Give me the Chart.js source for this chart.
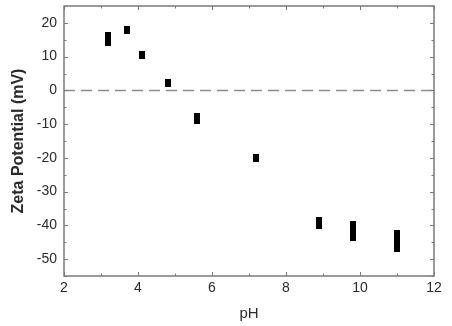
<!DOCTYPE html>
<html>
<head>
<meta charset="utf-8">
<script src="https://cdn.jsdelivr.net/npm/chart.js@4.4.1/dist/chart.umd.min.js"></script>
<style>
  html, body { margin: 0; padding: 0; background: #fff; }
  #wrap { width: 452px; height: 326px; }
</style>
</head>
<body>
<div id="wrap"><canvas id="zetaChart"></canvas></div>
<script>
// measured zeta potential vs pH
var phValues   = [3.2, 3.2, 3.7, 4.1, 4.8, 5.6, 5.6, 7.2, 8.9, 8.9, 9.8, 9.8, 9.8, 11, 11, 11];
var zetaValues = [16.2, 14.2, 17.9, 10.4, 2.1, -7.9, -8.9, -19.9, -38.8, -39.8, -40.0, -41.7, -43.4, -42.7, -44.7, -46.8];
var xRange = [2, 12];
var yRange = [-55, 25];

var points = phValues.map(function (x, i) { return { x: x, y: zetaValues[i] }; });

// small black rectangle marker, a bit taller than wide
var marker = document.createElement('canvas');
marker.width = 6;
marker.height = 8;
var mctx = marker.getContext('2d');
mctx.fillStyle = '#000';
mctx.fillRect(0, 0, 6, 8);

var axisColor = '#7a7a7a';
var fontFamily = 'Liberation Sans, Arial, sans-serif';

// frame plus inward ticks on all four sides
var framePlugin = {
    id: 'frame',
    afterDatasetsDraw: function (chart) {
        var ctx = chart.ctx;
        var a = chart.chartArea;
        var xs = chart.scales.x, ys = chart.scales.y;
        ctx.save();
        ctx.strokeStyle = axisColor;
        ctx.lineWidth = 1.5;
        ctx.strokeRect(a.left, a.top, a.right - a.left, a.bottom - a.top);
        ctx.lineWidth = 1;
        ctx.beginPath();
        xs.ticks.forEach(function (t) {
            var px = Math.round(xs.getPixelForValue(t.value)) + 0.5;
            var len = (t.value % 2 === 0) ? 4 : 2.5;
            ctx.moveTo(px, a.bottom); ctx.lineTo(px, a.bottom - len);
            ctx.moveTo(px, a.top); ctx.lineTo(px, a.top + len);
        });
        ys.ticks.forEach(function (t) {
            var py = Math.round(ys.getPixelForValue(t.value)) + 0.5;
            var len = (t.value % 10 === 0) ? 4 : 2.5;
            ctx.moveTo(a.left, py); ctx.lineTo(a.left + len, py);
            ctx.moveTo(a.right, py); ctx.lineTo(a.right - len, py);
        });
        ctx.stroke();
        ctx.restore();
    }
};

new Chart(document.getElementById('zetaChart').getContext('2d'), {
    type: 'scatter',
    data: {
        datasets: [
            {
                label: 'Zeta potential',
                data: points,
                pointStyle: marker,
                backgroundColor: '#000',
                borderColor: '#000'
            },
            {
                label: 'zero',
                type: 'line',
                data: [{ x: xRange[0], y: 0 }, { x: xRange[1], y: 0 }],
                borderColor: '#8c8c8c',
                borderWidth: 1.5,
                borderDash: [11, 6],
                pointRadius: 0,
                fill: false
            }
        ]
    },
    options: {
        responsive: true,
        maintainAspectRatio: false,
        animation: false,
        layout: { padding: { left: 0, right: 18, top: 6, bottom: 0 } },
        plugins: {
            legend: { display: false },
            tooltip: { enabled: false }
        },
        scales: {
            x: {
                type: 'linear',
                min: xRange[0],
                max: xRange[1],
                grid: { display: false, drawTicks: false },
                border: { display: false },
                ticks: {
                    stepSize: 1,
                    autoSkip: false,
                    maxRotation: 0,
                    padding: 4,
                    color: '#2a2a2a',
                    font: { family: fontFamily, size: 14 },
                    callback: function (v) { return v % 2 === 0 ? v : ''; }
                },
                title: {
                    display: true,
                    text: 'pH',
                    color: '#2a2a2a',
                    font: { family: fontFamily, size: 15 },
                    padding: { top: 6, bottom: 3 }
                },
                afterFit: function (s) { s.height = 50; }
            },
            y: {
                type: 'linear',
                min: yRange[0],
                max: yRange[1],
                grid: { display: false, drawTicks: false },
                border: { display: false },
                ticks: {
                    stepSize: 5,
                    autoSkip: false,
                    padding: 7,
                    color: '#2a2a2a',
                    font: { family: fontFamily, size: 14 },
                    callback: function (v) { return v % 10 === 0 ? v : ''; }
                },
                title: {
                    display: true,
                    text: 'Zeta Potential (mV)',
                    color: '#2a2a2a',
                    font: { family: fontFamily, size: 16, weight: 'bold' },
                    padding: { top: 9, bottom: 0 }
                },
                afterFit: function (s) {
                    s.width = 64;
                    s.paddingTop = 0;
                    s.paddingBottom = 0;
                }
            }
        }
    },
    plugins: [framePlugin]
});
</script>
</body>
</html>
